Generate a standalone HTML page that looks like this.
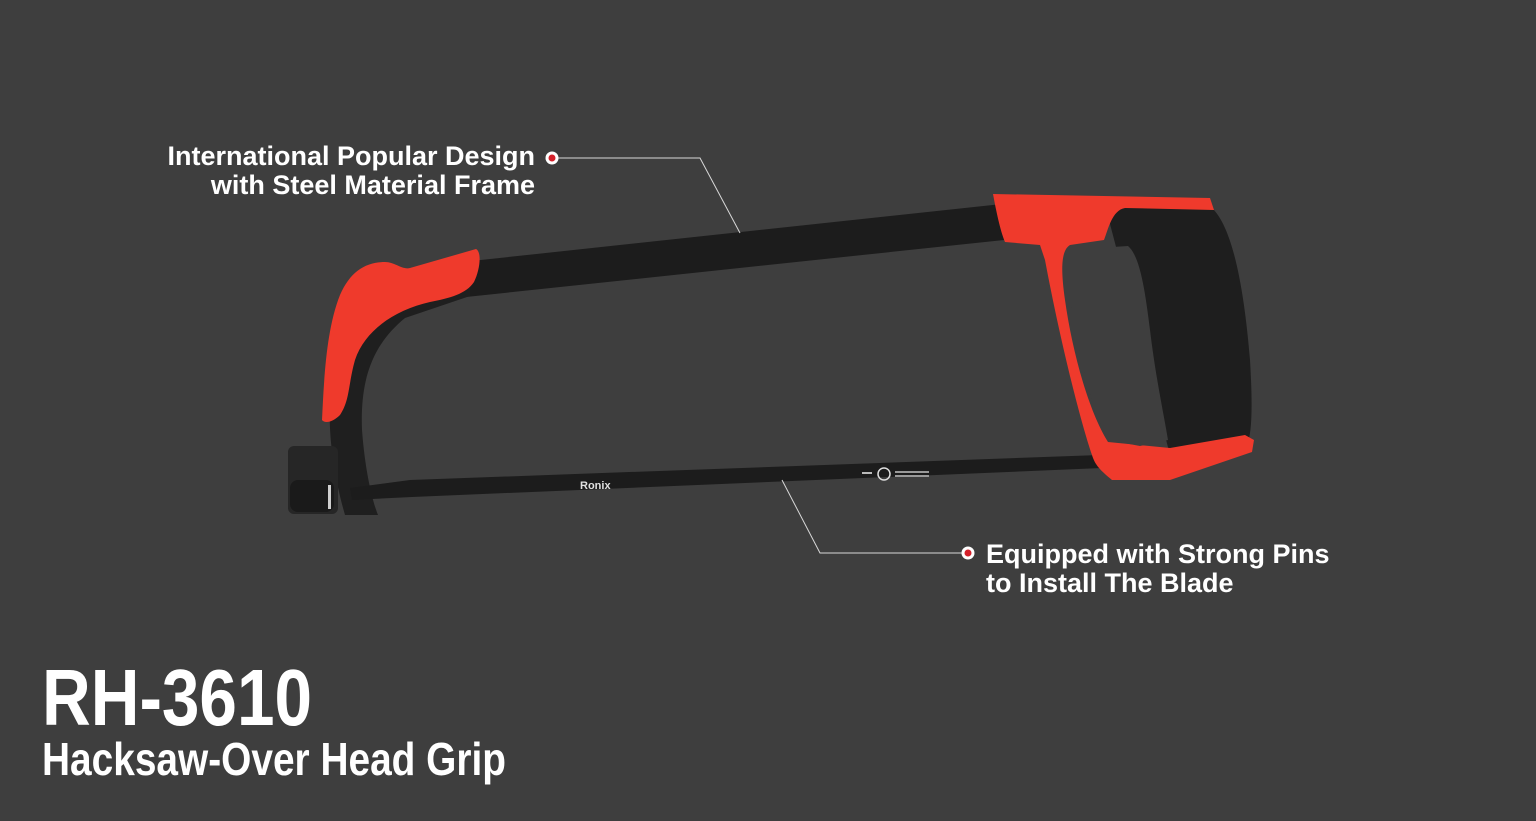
<!DOCTYPE html>
<html><head><style>
html,body{margin:0;padding:0;background:#3e3e3e;}
svg{display:block;}
</style></head><body>
<svg width="1536" height="821" viewBox="0 0 1536 821" xmlns="http://www.w3.org/2000/svg">
<rect width="1536" height="821" fill="#3e3e3e"/>
<!-- top bar -->
<polygon points="462,262 1002,204 1004,240 466,297" fill="#1c1c1c"/>
<!-- left arm black -->
<path d="M330,400 C328,440 335,480 345,515 L378,515 C372,500 365,470 362,430 C360,380 372,345 405,318 L470,296 L470,265 L400,285 C355,300 333,345 330,400 Z" fill="#1f1f1f"/>
<!-- knob -->
<rect x="288" y="446" width="50" height="68" rx="6" fill="#262626"/>
<rect x="290" y="480" width="44" height="32" rx="8" fill="#1a1a1a"/>
<rect x="328" y="485" width="3" height="24" fill="#cfcfcf"/>
<!-- left red cap -->
<path d="M322,420 C324,380 326,330 340,295 C350,272 365,262 385,262 C395,262 402,270 410,268 L476,249 C482,252 480,270 474,282 C466,294 450,298 430,302 C395,310 365,330 355,360 C348,385 350,400 340,415 C333,422 325,424 322,420 Z" fill="#ef3a2c"/>
<!-- blade bar -->
<polygon points="350,488 410,480 1100,455 1102,468 412,497 352,500" fill="#1c1c1c"/>
<text x="580" y="489" font-family="Liberation Sans, sans-serif" font-weight="bold" font-size="11" fill="#e0e0e0">Ronix</text>
<circle cx="884" cy="474" r="6" fill="none" stroke="#ddd" stroke-width="1.5"/>
<rect x="862" y="472" width="10" height="2" fill="#bbb"/>
<rect x="895" y="471" width="34" height="2" fill="#999"/>
<rect x="895" y="475" width="34" height="2" fill="#999"/>
<!-- right handle black grip -->
<path d="M1105,205 L1212,208 C1235,230 1245,300 1250,360 C1253,410 1252,440 1245,448 L1170,455 L1130,300 Z" fill="#1e1e1e"/>
<!-- red frame -->
<path d="M993,194 L1210,198 L1214,210 L1125,208 C1112,210 1108,230 1104,240 L1070,245 C1062,250 1060,265 1065,300 C1072,350 1088,410 1108,442 L1170,448 L1245,435 L1254,440 L1252,452 L1170,480 L1112,480 C1100,470 1095,465 1092,455 C1080,420 1060,340 1045,260 L1040,245 L1005,242 C1000,230 996,210 993,194 Z" fill="#ef3a2c"/>
<!-- inner hole -->
<path d="M1068,250 L1128,246 C1140,256 1145,290 1150,330 C1156,380 1165,420 1168,440 L1140,446 L1108,440 C1092,410 1080,360 1072,310 C1066,275 1064,258 1068,250 Z" fill="#3e3e3e"/>
<!-- callouts -->
<polyline points="558,158 700,158 740,233" fill="none" stroke="#d8d8d8" stroke-width="1"/>
<circle cx="552" cy="158" r="6.5" fill="#fff"/>
<circle cx="552" cy="158" r="3.5" fill="#d4202a"/>
<polyline points="962,553 820,553 782,480" fill="none" stroke="#d8d8d8" stroke-width="1"/>
<circle cx="968" cy="553" r="6.5" fill="#fff"/>
<circle cx="968" cy="553" r="3.5" fill="#d4202a"/>
<g font-family="Liberation Sans, sans-serif" font-weight="bold" font-size="27" fill="#ffffff">
<text x="535" y="165" text-anchor="end">International Popular Design</text>
<text x="535" y="194" text-anchor="end">with Steel Material Frame</text>
<text x="986" y="563">Equipped with Strong Pins</text>
<text x="986" y="592">to Install The Blade</text>
</g>
<text x="42" y="725" font-family="Liberation Sans, sans-serif" font-weight="bold" font-size="80" fill="#fff" textLength="270" lengthAdjust="spacingAndGlyphs">RH-3610</text>
<text x="42" y="775" font-family="Liberation Sans, sans-serif" font-weight="bold" font-size="46" fill="#fff" textLength="464" lengthAdjust="spacingAndGlyphs">Hacksaw-Over Head Grip</text>
</svg>
</body></html>
